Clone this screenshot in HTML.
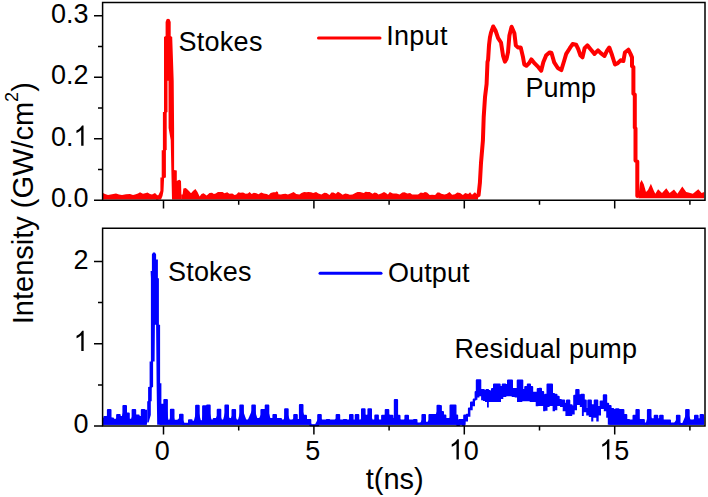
<!DOCTYPE html>
<html><head><meta charset="utf-8"><style>
html,body{margin:0;padding:0;background:#fff;width:708px;height:497px;overflow:hidden}
svg{display:block}
text{font-family:"Liberation Sans",sans-serif}
</style></head><body>
<svg width="708" height="497" viewBox="0 0 708 497">
<path d="M103,193 L105,194 L108,195 L112,194.2 L116,193.5 L119,194.5 L122,195 L126,194.2 L130,194 L133,195 L135,194.5 L138,193.5 L140,192.2 L143,193.8 L146,193 L147.5,192.5 L150,194 L152,194.5 L155,193 L157,195 L158.5,196 L158.5,199.6 L103,199.6 Z" fill="#ff0000"/>
<path d="M156,196.5 L158.5,195 L160.4,191 L160.4,177.5 L161.7,177.5 L161.7,150.3 L162.9,150.3 L162.9,112 L164,112 L164,37 L165.6,36 L165.6,22 L166.6,19.3 L168,18.8 L169.6,19.3 L170.7,22 L170.7,36 L172.2,37 L173.7,81 L174.1,128 L174.1,170 L176.8,170.5 L176.8,181 L178,180.2 L179.5,179.8 L181,181 L181.5,199.4 L172,199.4 L170.7,140 L168.6,128 L168.5,81 L168,80.5 L167.5,81 L167.5,112 L166.7,112.5 L166.7,150 L165.9,150.3 L165.9,177.5 L164.1,178 L163.5,191 L162.5,196 L161,199.4 L156,199.4 Z" fill="#ff0000"/>
<path d="M181.2,194.4 L182.6,194.4 L183.4,188.4 L185.8,188 L187.5,189.5 L189,191 L191,193.3 L193,191 L195.4,189 L197.5,192 L199.6,196.5 L201.5,194 L203.5,193.3 L206.7,195.4 L209.5,193 L212,192.8 L213.9,193.9 L215.7,193.5 L217.9,192 L220.3,191.9 L222.6,192 L224.4,193.2 L227.3,192.2 L229.3,193.8 L232.3,193.6 L234.6,194.9 L236.3,194.5 L238.4,192.3 L240.3,192.8 L243.1,192.4 L245.6,193.8 L247.9,193.6 L249.6,192 L251.6,194 L253.9,192.8 L256.4,193.3 L258.5,194.3 L261.2,192.6 L263.7,193.5 L266.7,194.1 L268.8,194.9 L270.6,193.1 L273.4,192.3 L275.6,192.3 L275.8,191.9 L276.8,191.3 L278,192.3 L278.4,194.2 L280.9,194.6 L283.1,194 L285.6,193.7 L287.9,194.5 L291,193.3 L293.6,192 L296.3,193.9 L299.4,194.4 L301.5,193 L304.1,191.9 L306.5,192.3 L308.3,192 L311.1,192.2 L313.2,193.1 L316.1,192.1 L318.4,193.6 L321.4,194.4 L324.3,192.7 L326.6,192.9 L329.5,194.9 L331.4,192.4 L333.4,192.5 L335.8,193.7 L337.9,191.8 L340.2,193 L342.6,194.8 L345.3,193.4 L347.9,194 L349.7,194.7 L352.5,194.6 L355.3,193.1 L357.5,192.1 L360.1,192 L361.9,192.5 L363.8,192.9 L365.6,191.8 L367.5,192.1 L369.7,191.9 L372.6,193.8 L374.5,192.6 L376.7,193 L378.5,194.5 L381.7,193.3 L384,192.1 L385.9,192.9 L387.9,194.5 L389.8,191.9 L392.9,193.5 L394.8,193.5 L396.5,193.5 L399.6,194.6 L402.3,192.6 L404.5,192.3 L407.3,193.5 L410.1,192.9 L412.1,194.4 L415.2,194.5 L418,194.4 L420.8,192.5 L423.2,192.9 L424.9,191.9 L427,192.6 L429.7,194.9 L432,194.8 L435.1,194.9 L437.3,192.5 L439.3,192.4 L441.3,193.8 L444.3,194.5 L446.6,193.9 L449.5,192.1 L452.1,194.7 L454.9,194.2 L457.3,192.4 L460.1,192.9 L462.9,194.9 L465.2,193.1 L468.2,194.1 L470.1,192.2 L472,194.7 L474.9,192.3 L477.7,194.9 L478,193.4 L478,199.6 L181.2,199.6 Z" fill="#ff0000"/>
<path d="M638.5,196 L640,183 L641.6,180 L643.8,184.3 L646,192 L648,190 L650.9,183.8 L653.7,190.4 L655.3,193.7 L658.1,189.3 L662,193.1 L666.3,188.2 L669.6,193.1 L674,189.6 L677.4,193.7 L682.3,186.5 L686.2,192 L688.4,192.6 L692.8,193.7 L698.3,189.3 L701.6,193.1 L704.2,192 L704.2,198.2 L638.5,198.2 Z" fill="#ff0000"/>
<path d="M476,196.5 L478.6,195 L479.9,182.8 L481,163 L482.9,140.7 L483.7,117.2 L485,97.3 L486.6,84 L487.5,62 L488.1,59.8 L489,45.3 L489.9,37.7 L491,32.6 L493.2,26.5 L495.5,30.5 L498.1,38.2 L501,42.5 L503.1,56 L504.9,61.6 L506.5,59 L508,52.4 L509.4,35.4 L511.6,26.8 L514.4,33.3 L515.8,45.3 L517.9,47.4 L520.7,47.4 L522.9,56.6 L524.3,64.5 L526.4,65.8 L529.2,63 L531.3,59.4 L534.9,63.7 L538.4,67.2 L541.2,70.7 L543.3,62.3 L546.2,55.2 L549.7,52.4 L551.5,53 L554.2,62.4 L557.8,68 L561.3,70.1 L564.1,61 L566.2,53.9 L569.8,48.2 L572.6,44 L576.1,44.7 L578.2,49 L580.4,55.3 L582.5,57.4 L584.6,48.2 L587.4,45.4 L591,49.7 L594.5,53.9 L598,50.4 L600.8,53.2 L604.4,56 L607.2,50.4 L609.3,47.5 L612.1,55.3 L615,64.5 L617.8,63.1 L620.6,60.3 L623.4,61 L624.9,52.5 L628.4,49.7 L630.5,53.9 L632,57.4 L632,66.3 L633.4,67 L633.4,93.8 L634.8,94.5 L634.8,127.6 L635.5,128.5 L635.5,160.6 L637.3,161.5 L637.3,196" fill="none" stroke="#ff0000" stroke-width="4" stroke-linejoin="round" stroke-linecap="round"/>
<path d="M103,419 L104.3,419 L104.3,417 L107.9,417 L107.9,410 L110.5,410 L110.5,418.4 L113,418.4 L113,419.8 L117.1,419.8 L117.1,414.9 L119.7,414.9 L119.7,417 L123.4,417 L123.4,406.1 L126,406.1 L126,413.5 L128.8,413.5 L128.8,419.8 L132.6,419.8 L132.6,410 L135.2,410 L135.2,415.6 L138.7,415.6 L138.7,417 L141.8,417 L141.8,410 L144.4,410 L144.4,410.7 L147,410.7 L147,424.8 L103,424.8 Z" fill="#0000ff"/>
<path d="M103,419 L104.3,419 L104.3,417 L107.9,417 L107.9,410 L110.5,410 L110.5,418.4 L113,418.4 L113,419.8 L117.1,419.8 L117.1,414.9 L119.7,414.9 L119.7,417 L123.4,417 L123.4,406.1 L126,406.1 L126,413.5 L128.8,413.5 L128.8,419.8 L132.6,419.8 L132.6,410 L135.2,410 L135.2,415.6 L138.7,415.6 L138.7,417 L141.8,417 L141.8,410 L144.4,410 L144.4,410.7 L147,410.7" fill="none" stroke="#0000ff" stroke-width="2.0" stroke-linejoin="round"/>
<path d="M102.5,420.2 L105.6,418.2 L109.2,411.2 L112,419.6 L114.1,421 L118.4,416.1 L121.2,418.2 L124.7,407.3 L127.5,414.7 L130.4,421 L133.9,411.2 L137.4,416.8 L140.3,418.2 L143.1,411.2 L145.9,411.9 L145.9,424.8 L102.5,424.8 Z" fill="#0000ff"/>
<path d="M159.5,404.7 L161.8,404.7 L161.8,404.7 L164.3,404.7 L164.3,400.1 L166.9,400.1 L166.9,420.8 L170.9,420.8 L170.9,409.7 L173.5,409.7 L173.5,420.8 L180,420.8 L180,414.7 L182.6,414.7 L182.6,423.8 L189,423.8 L189,420.3 L191.6,420.3 L191.6,421.8 L196.1,421.8 L196.1,405.7 L198.7,405.7 L198.7,421.3 L203.1,421.3 L203.1,406.2 L207.1,406.2 L207.1,405.4 L209.7,405.4 L209.7,420.6 L213.7,420.6 L213.7,419 L217.7,419 L217.7,409.7 L220.3,409.7 L220.3,420.6 L225.4,420.6 L225.4,405.4 L228,405.4 L228,419 L232.5,419 L232.5,410 L235.1,410 L235.1,420.6 L240.3,420.6 L240.3,405.4 L242.9,405.4 L242.9,420.6 L252.3,420.6 L252.3,405.4 L254.9,405.4 L254.9,419 L261.4,419 L261.4,410 L265.7,410 L265.7,405.4 L268.3,405.4 L268.3,419 L273.4,419 L273.4,415 L276,415 L276,419 L281,419 L281,420.6 L285.1,420.6 L285.1,409.3 L287.7,409.3 L287.7,420.6 L294.2,420.6 L294.2,415 L296.8,415 L296.8,420 L299.9,420 L299.9,405.1 L302.5,405.1 L302.5,415.7 L306,415.7 L306,419.9 L310.3,419.9 L310.3,425.3 L318.2,425.3 L318.2,415 L320.8,415 L320.8,420.6 L326.7,420.6 L326.7,419.9 L329.3,419.9 L329.3,420.6 L336.6,420.6 L336.6,415 L339.2,415 L339.2,420.6 L343.7,420.6 L343.7,419.9 L346.3,419.9 L346.3,420.6 L350,420.6 L350,415 L352.6,415 L352.6,420.6 L355.7,420.6 L355.7,415 L358.3,415 L358.3,420.6 L362,420.6 L362,409.3 L364.6,409.3 L364.6,415.7 L368.4,415.7 L368.4,409.3 L371,409.3 L371,420.6 L375.3,420.6 L375.3,415.4 L377.9,415.4 L377.9,420.6 L382.1,420.6 L382.1,415.7 L385.7,415.7 L385.7,410 L388.3,410 L388.3,415.7 L392.4,415.7 L392.4,419 L394.8,419 L394.8,400.1 L397.1,400.1 L397.1,415.7 L399.5,415.7 L399.5,420.6 L405.4,420.6 L405.4,415.7 L408,415.7 L408,420.6 L413.9,420.6 L413.9,419.9 L416.5,419.9 L416.5,423.4 L422.4,423.4 L422.4,415 L425,415 L425,422.7 L429.4,422.7 L429.4,415 L432.9,415 L432.9,415 L437.5,415 L437.5,405.8 L439.4,405.8 L439.4,406 L440.9,406 L440.9,411.9 L443,411.9 L443,415.4 L445.4,415.4 L445.4,418.9 L448.1,418.9 L448.1,418.9 L450.5,418.9 L450.5,405.4 L453.1,405.4 L453.1,405.4 L455.5,405.4 L455.5,415.4 L457.2,415.4 L457.2,425 L459.2,425 L459.2,420 L461.3,420 L461.3,420 L462.8,420 L462.8,425 L464.2,425 L464.2,415.4 L466.7,415.4 L466.7,414.8 L468.9,414.8 L468.9,408.4 L471,408.4 L471,402.5 L473.7,402.5 L473.7,399.6 L475.6,399.6 L475.6,392 L476.8,392 L476.8,380.3 L478.5,380.3 L478.5,380.3 L480.3,380.3 L480.3,390.8 L481.8,390.8 L481.8,390 L483.9,390 L483.9,391 L486.4,391 L486.4,390 L488.1,390 L488.1,390.9 L489.9,390.9 L489.9,392 L492,392 L492,389 L494,389 L494,384.6 L496.6,384.6 L496.6,384.6 L499.7,384.6 L499.7,387 L502.7,387 L502.7,384.6 L505.3,384.6 L505.3,385 L508,385 L508,380.5 L510,380.5 L510,380.5 L512,380.5 L512,389.1 L514.7,389.1 L514.7,389 L517.7,389 L517.7,380.5 L520,380.5 L520,380.5 L522.3,380.5 L522.3,390 L525.2,390 L525.2,387 L527.8,387 L527.8,384.6 L530,384.6 L530,387 L532.2,387 L532.2,392.7 L534.8,392.7 L534.8,392.7 L537.7,392.7 L537.7,389.1 L539.5,389.1 L539.5,388.8 L541,388.8 L541,392 L543.2,392 L543.2,395.2 L545.3,395.2 L545.3,394.7 L547.5,394.7 L547.5,384.5 L549.9,384.5 L549.9,384.5 L552,384.5 L552,394.1 L554.1,394.1 L554.1,394.7 L556.5,394.7 L556.5,396.8 L558.7,396.8 L558.7,400 L561,400 L561,400.5 L564.2,400.5 L564.2,403.7 L567,403.7 L567,400.5 L569.3,400.5 L569.3,405.3 L571.7,405.3 L571.7,406.4 L574.2,406.4 L574.2,395.7 L576.2,395.7 L576.2,389.9 L578.6,389.9 L578.6,395.2 L581.4,395.2 L581.4,394.7 L583.8,394.7 L583.8,400.5 L585.8,400.5 L585.8,409.1 L588.3,409.1 L588.3,400.5 L590.9,400.5 L590.9,405.3 L594.7,405.3 L594.7,400.5 L597.3,400.5 L597.3,406.9 L600.6,406.9 L600.6,401.6 L603.8,401.6 L603.8,395.2 L606.2,395.2 L606.2,403.7 L608.2,403.7 L608.2,405.9 L610.6,405.9 L610.6,409.1 L613.3,409.1 L613.3,410.1 L616,410.1 L616,409.3 L618.5,409.3 L618.5,410 L623.4,410 L623.4,415 L626.3,415 L626.3,419.9 L629.1,419.9 L629.1,420.6 L633.5,420.6 L633.5,415.7 L636.4,415.7 L636.4,410 L638.8,410 L638.8,419.9 L641.2,419.9 L641.2,419.9 L643.9,419.9 L643.9,423.4 L647.9,423.4 L647.9,410 L650.5,410 L650.5,419.2 L654.7,419.2 L654.7,415.7 L657.3,415.7 L657.3,419.2 L660.1,419.2 L660.1,415.7 L662.7,415.7 L662.7,420.6 L666.6,420.6 L666.6,420.6 L670,420.6 L670,423.4 L676.9,423.4 L676.9,415.7 L679.5,415.7 L679.5,424.1 L686.1,424.1 L686.1,410 L688.7,410 L688.7,420.6 L695,420.6 L695,415.7 L697.6,415.7 L697.6,419.2 L700.6,419.2 L700.6,415 L703,415 L703,415.7 L704,415.7 L704,424.8 L608.3,424.8 L608.3,424.8 L607.8,424.8 L607.8,417.7 L606.2,417.7 L606.2,411.3 L603.8,411.3 L603.8,409.1 L601,409.1 L601,415.5 L598.7,415.5 L598.7,421.4 L596.3,421.4 L596.3,417.7 L593.3,417.7 L593.3,421.4 L591.2,421.4 L591.2,417.1 L588.8,417.1 L588.8,415.5 L586.2,415.5 L586.2,412.3 L583.8,412.3 L583.8,416.1 L581.9,416.1 L581.9,407 L579.8,407 L579.8,404.9 L577,404.9 L577,410.2 L574.7,410.2 L574.7,414.5 L572.2,414.5 L572.2,416.1 L569.8,416.1 L569.8,416.1 L567.8,416.1 L567.8,416.1 L565.4,416.1 L565.4,411.3 L562.7,411.3 L562.7,407 L560,407 L560,405.9 L557.3,405.9 L557.3,410.2 L555,410.2 L555,411.3 L552.6,411.3 L552.6,405.9 L549.6,405.9 L549.6,407 L547.5,407 L547.5,410.7 L545.3,410.7 L545.3,411.3 L543.1,411.3 L543.1,405.9 L541,405.9 L541,405.9 L538.3,405.9 L538.3,406.2 L535.7,406.2 L535.7,402.1 L532.5,402.1 L532.5,402.1 L529.7,402.1 L529.7,401.2 L526.5,401.2 L526.5,401.2 L522.3,401.2 L522.3,402.1 L519.5,402.1 L519.5,402.1 L517,402.1 L517,397.5 L514.7,397.5 L514.7,397.1 L511.7,397.1 L511.7,396.2 L506.3,396.2 L506.3,397.1 L503.3,397.1 L503.3,399 L501,399 L501,402.1 L498,402.1 L498,402.1 L493.9,402.1 L493.9,402.1 L490.8,402.1 L490.8,402.1 L488.8,402.1 L488.8,407.4 L487,407.4 L487,402.1 L485,402.1 L485,400.9 L482.9,400.9 L482.9,400.3 L481.1,400.3 L481.1,396.3 L479.4,396.3 L479.4,397.4 L477.4,397.4 L477.4,399.8 L475,399.8 L475,406.2 L472.7,406.2 L472.7,410.3 L470.4,410.3 L470.4,416.7 L468,416.7 L468,421.4 L465.6,421.4 L465.6,424.8 L464,424.8 L464,424.8 L463.5,424.8 L463.5,424.8 L159.5,424.8 Z" fill="#0000ff"/>
<path d="M159.5,404.7 L161.8,404.7 L161.8,404.7 L164.3,404.7 L164.3,400.1 L166.9,400.1 L166.9,420.8 L170.9,420.8 L170.9,409.7 L173.5,409.7 L173.5,420.8 L180,420.8 L180,414.7 L182.6,414.7 L182.6,423.8 L189,423.8 L189,420.3 L191.6,420.3 L191.6,421.8 L196.1,421.8 L196.1,405.7 L198.7,405.7 L198.7,421.3 L203.1,421.3 L203.1,406.2 L207.1,406.2 L207.1,405.4 L209.7,405.4 L209.7,420.6 L213.7,420.6 L213.7,419 L217.7,419 L217.7,409.7 L220.3,409.7 L220.3,420.6 L225.4,420.6 L225.4,405.4 L228,405.4 L228,419 L232.5,419 L232.5,410 L235.1,410 L235.1,420.6 L240.3,420.6 L240.3,405.4 L242.9,405.4 L242.9,420.6 L252.3,420.6 L252.3,405.4 L254.9,405.4 L254.9,419 L261.4,419 L261.4,410 L265.7,410 L265.7,405.4 L268.3,405.4 L268.3,419 L273.4,419 L273.4,415 L276,415 L276,419 L281,419 L281,420.6 L285.1,420.6 L285.1,409.3 L287.7,409.3 L287.7,420.6 L294.2,420.6 L294.2,415 L296.8,415 L296.8,420 L299.9,420 L299.9,405.1 L302.5,405.1 L302.5,415.7 L306,415.7 L306,419.9 L310.3,419.9 L310.3,425.3 L318.2,425.3 L318.2,415 L320.8,415 L320.8,420.6 L326.7,420.6 L326.7,419.9 L329.3,419.9 L329.3,420.6 L336.6,420.6 L336.6,415 L339.2,415 L339.2,420.6 L343.7,420.6 L343.7,419.9 L346.3,419.9 L346.3,420.6 L350,420.6 L350,415 L352.6,415 L352.6,420.6 L355.7,420.6 L355.7,415 L358.3,415 L358.3,420.6 L362,420.6 L362,409.3 L364.6,409.3 L364.6,415.7 L368.4,415.7 L368.4,409.3 L371,409.3 L371,420.6 L375.3,420.6 L375.3,415.4 L377.9,415.4 L377.9,420.6 L382.1,420.6 L382.1,415.7 L385.7,415.7 L385.7,410 L388.3,410 L388.3,415.7 L392.4,415.7 L392.4,419 L394.8,419 L394.8,400.1 L397.1,400.1 L397.1,415.7 L399.5,415.7 L399.5,420.6 L405.4,420.6 L405.4,415.7 L408,415.7 L408,420.6 L413.9,420.6 L413.9,419.9 L416.5,419.9 L416.5,423.4 L422.4,423.4 L422.4,415 L425,415 L425,422.7 L429.4,422.7 L429.4,415 L432.9,415 L432.9,415 L437.5,415 L437.5,405.8 L439.4,405.8 L439.4,406 L440.9,406 L440.9,411.9 L443,411.9 L443,415.4 L445.4,415.4 L445.4,418.9 L448.1,418.9 L448.1,418.9 L450.5,418.9 L450.5,405.4 L453.1,405.4 L453.1,405.4 L455.5,405.4 L455.5,415.4 L457.2,415.4 L457.2,425 L459.2,425 L459.2,420 L461.3,420 L461.3,420 L462.8,420 L462.8,425 L464.2,425 L464.2,415.4 L466.7,415.4 L466.7,414.8 L468.9,414.8 L468.9,408.4 L471,408.4 L471,402.5 L473.7,402.5 L473.7,399.6 L475.6,399.6 L475.6,392 L476.8,392 L476.8,380.3 L478.5,380.3 L478.5,380.3 L480.3,380.3 L480.3,390.8 L481.8,390.8 L481.8,390 L483.9,390 L483.9,391 L486.4,391 L486.4,390 L488.1,390 L488.1,390.9 L489.9,390.9 L489.9,392 L492,392 L492,389 L494,389 L494,384.6 L496.6,384.6 L496.6,384.6 L499.7,384.6 L499.7,387 L502.7,387 L502.7,384.6 L505.3,384.6 L505.3,385 L508,385 L508,380.5 L510,380.5 L510,380.5 L512,380.5 L512,389.1 L514.7,389.1 L514.7,389 L517.7,389 L517.7,380.5 L520,380.5 L520,380.5 L522.3,380.5 L522.3,390 L525.2,390 L525.2,387 L527.8,387 L527.8,384.6 L530,384.6 L530,387 L532.2,387 L532.2,392.7 L534.8,392.7 L534.8,392.7 L537.7,392.7 L537.7,389.1 L539.5,389.1 L539.5,388.8 L541,388.8 L541,392 L543.2,392 L543.2,395.2 L545.3,395.2 L545.3,394.7 L547.5,394.7 L547.5,384.5 L549.9,384.5 L549.9,384.5 L552,384.5 L552,394.1 L554.1,394.1 L554.1,394.7 L556.5,394.7 L556.5,396.8 L558.7,396.8 L558.7,400 L561,400 L561,400.5 L564.2,400.5 L564.2,403.7 L567,403.7 L567,400.5 L569.3,400.5 L569.3,405.3 L571.7,405.3 L571.7,406.4 L574.2,406.4 L574.2,395.7 L576.2,395.7 L576.2,389.9 L578.6,389.9 L578.6,395.2 L581.4,395.2 L581.4,394.7 L583.8,394.7 L583.8,400.5 L585.8,400.5 L585.8,409.1 L588.3,409.1 L588.3,400.5 L590.9,400.5 L590.9,405.3 L594.7,405.3 L594.7,400.5 L597.3,400.5 L597.3,406.9 L600.6,406.9 L600.6,401.6 L603.8,401.6 L603.8,395.2 L606.2,395.2 L606.2,403.7 L608.2,403.7 L608.2,405.9 L610.6,405.9 L610.6,409.1 L613.3,409.1 L613.3,410.1 L616,410.1 L616,409.3 L618.5,409.3 L618.5,410 L623.4,410 L623.4,415 L626.3,415 L626.3,419.9 L629.1,419.9 L629.1,420.6 L633.5,420.6 L633.5,415.7 L636.4,415.7 L636.4,410 L638.8,410 L638.8,419.9 L641.2,419.9 L641.2,419.9 L643.9,419.9 L643.9,423.4 L647.9,423.4 L647.9,410 L650.5,410 L650.5,419.2 L654.7,419.2 L654.7,415.7 L657.3,415.7 L657.3,419.2 L660.1,419.2 L660.1,415.7 L662.7,415.7 L662.7,420.6 L666.6,420.6 L666.6,420.6 L670,420.6 L670,423.4 L676.9,423.4 L676.9,415.7 L679.5,415.7 L679.5,424.1 L686.1,424.1 L686.1,410 L688.7,410 L688.7,420.6 L695,420.6 L695,415.7 L697.6,415.7 L697.6,419.2 L700.6,419.2 L700.6,415 L703,415 L703,415.7 L704,415.7" fill="none" stroke="#0000ff" stroke-width="2.0" stroke-linejoin="round"/>
<path d="M160.5,405.9 L163,405.9 L165.6,401.3 L168.7,422 L172.2,410.9 L175.2,422 L181.3,415.9 L185.3,425 L190.3,421.5 L193.3,423 L197.4,406.9 L201.4,422.5 L204.4,407.4 L208.4,406.6 L212,421.8 L215,420.2 L219,410.9 L222.5,421.8 L226.7,406.6 L230,420.2 L233.8,411.2 L237.5,421.8 L241.6,406.6 L247,421.8 L253.6,406.6 L258,420.2 L262.7,411.2 L267,406.6 L271,420.2 L274.7,416.2 L279.7,420.2 L283,421.8 L286.4,410.5 L290.5,421.8 L295.5,416.2 L298.5,421.2 L301.2,406.3 L304.7,416.9 L309,421.1 L313.9,426.5 L319.5,416.2 L323.5,421.8 L328,421.1 L333,421.8 L337.9,416.2 L341.5,421.8 L345,421.1 L348,421.8 L351.3,416.2 L354,421.8 L357,416.2 L360,421.8 L363.3,410.5 L366.5,416.9 L369.7,410.5 L373.2,421.8 L376.6,416.6 L380.6,421.8 L383.4,416.9 L387,411.2 L391.2,416.9 L393.5,420.2 L396.1,401.3 L398.2,416.9 L402.5,421.8 L406.7,416.9 L411,421.8 L415.2,421.1 L419.4,424.6 L423.7,416.2 L426.5,423.9 L430.7,416.2 L435,416.2 L438.8,407 L440,407.2 L441.8,413.1 L444.1,416.6 L447,420.1 L449.3,420.1 L451.7,406.6 L454.6,406.6 L456.3,416.6 L458.1,426.2 L460.4,421.2 L462.2,421.2 L462.2,424.8 L160.5,424.8 Z" fill="#0000ff"/>
<path d="M609.3,407.1 L612,410.3 L614.7,411.3 L617.2,410.5 L622.1,411.2 L625,416.2 L627.8,421.1 L632,421.8 L634.8,416.9 L637.7,411.2 L639.8,421.1 L642.6,421.1 L645.4,424.6 L649.2,411.2 L652.5,420.4 L656,416.9 L658.8,420.4 L661.4,416.9 L664.5,421.8 L668.7,421.8 L673,424.6 L678.2,416.9 L681.4,425.3 L687.4,411.2 L691.3,421.8 L696.3,416.9 L699.1,420.4 L701.9,416.2 L704.2,416.9 L704.2,424.8 L609.3,424.8 Z" fill="#0000ff"/>
<path d="M147.2,422.5 L147.2,401.3 L148.1,401.3 L148.1,387 L149.6,386.8 L149.6,361.6 L150.9,361.6 L150.9,278 L150.6,271.1 L151.9,271.1 L151.9,254.5 L153,252.5 L155,252.5 L156.1,254.5 L156.1,259.6 L157.9,259.6 L157.9,278.2 L158.9,278.2 L158.9,324.7 L160.1,324.7 L160.1,383.3 L161.4,383.3 L161.4,424.8 L157.2,424.8 L156.6,383.3 L156.1,324.7 L154.9,324.7 L154.6,361.6 L153.1,361.6 L153.1,386.8 L151.8,387.7 L151.7,401.3 L150.8,401.3 L150.8,414.9 L148.6,422.5 Z" fill="#0000ff"/>
<path d="M102.6,200.2 H705.0 V2.5 H102.6 Z M102.6,426.0 H705.0 V228.3 H102.6 Z" fill="none" stroke="#000" stroke-width="1.5"/>
<path d="M163.5,200.2 v8.2 M163.5,426.0 v8.4 M313.9,200.2 v8.2 M313.9,426.0 v8.4 M464.3,200.2 v8.2 M464.3,426.0 v8.4 M614.7,200.2 v8.2 M614.7,426.0 v8.4 M238.7,200.2 v4.6 M238.7,426.0 v4.6 M389.1,200.2 v4.6 M389.1,426.0 v4.6 M539.5,200.2 v4.6 M539.5,426.0 v4.6 M689.9,200.2 v4.6 M689.9,426.0 v4.6 M102.6,200.2 h-8.6 M102.6,138.7 h-8.6 M102.6,77.2 h-8.6 M102.6,15.7 h-8.6 M102.6,169.4 h-4.6 M102.6,107.9 h-4.6 M102.6,46.4 h-4.6 M102.6,426 h-8.6 M102.6,343.7 h-8.6 M102.6,261.4 h-8.6 M102.6,384.9 h-4.6 M102.6,302.6 h-4.6" fill="none" stroke="#000" stroke-width="1.5"/>
<path d="M318.5,38 H380" stroke="#ff0000" stroke-width="3" stroke-linecap="round"/>
<path d="M320,273.3 H381" stroke="#0000ff" stroke-width="3" stroke-linecap="round"/>
<g fill="#000"><path transform="translate(73.5,145.8) scale(0.01318,-0.01384)" d="M763 0H583V1147Q518 1085 412.5 1023Q307 961 223 930V1104Q374 1175 487 1276Q600 1377 647 1472H763Z"/><path transform="translate(73.6,351.1) scale(0.01318,-0.01384)" d="M763 0H583V1147Q518 1085 412.5 1023Q307 961 223 930V1104Q374 1175 487 1276Q600 1377 647 1472H763Z"/><path transform="translate(448.8,459.6) scale(0.01318,-0.01384)" d="M763 0H583V1147Q518 1085 412.5 1023Q307 961 223 930V1104Q374 1175 487 1276Q600 1377 647 1472H763Z"/><path transform="translate(599.3,459.6) scale(0.01318,-0.01384)" d="M763 0H583V1147Q518 1085 412.5 1023Q307 961 223 930V1104Q374 1175 487 1276Q600 1377 647 1472H763Z"/></g>
<g font-family="Liberation Sans, sans-serif" fill="#000"><text transform="translate(51,207.3) scale(1,1.05)" font-size="27">0</text><text transform="translate(66,207.3) scale(1,1.05)" font-size="27">.</text><text transform="translate(73.5,207.3) scale(1,1.05)" font-size="27">0</text><text transform="translate(51,145.8) scale(1,1.05)" font-size="27">0</text><text transform="translate(66,145.8) scale(1,1.05)" font-size="27">.</text><text transform="translate(51,84.3) scale(1,1.05)" font-size="27">0</text><text transform="translate(66,84.3) scale(1,1.05)" font-size="27">.</text><text transform="translate(73.5,84.3) scale(1,1.05)" font-size="27">2</text><text transform="translate(51,22.8) scale(1,1.05)" font-size="27">0</text><text transform="translate(66,22.8) scale(1,1.05)" font-size="27">.</text><text transform="translate(73.5,22.8) scale(1,1.05)" font-size="27">3</text><text transform="translate(73.6,433.4) scale(1,1.05)" font-size="27">0</text><text transform="translate(73.6,268.8) scale(1,1.05)" font-size="27">2</text><text transform="translate(154.7,459.6) scale(1,1.05)" font-size="27">0</text><text transform="translate(305.3,459.6) scale(1,1.05)" font-size="27">5</text><text transform="translate(463.8,459.6) scale(1,1.05)" font-size="27">0</text><text transform="translate(614.3,459.6) scale(1,1.05)" font-size="27">5</text><text transform="translate(178.4,50.6) scale(1,1.05)" text-anchor="start" font-size="27" letter-spacing="0.3">Stokes</text><text transform="translate(386.2,45.3) scale(1,1.05)" text-anchor="start" font-size="27" letter-spacing="0.3">Input</text><text transform="translate(525.4,97.1) scale(1,1.05)" text-anchor="start" font-size="27" >Pump</text><text transform="translate(168.0,280.7) scale(1,1.05)" text-anchor="start" font-size="27" letter-spacing="0.2">Stokes</text><text transform="translate(388.0,281.8) scale(1,1.05)" text-anchor="start" font-size="27" letter-spacing="0.1">Output</text><text transform="translate(454.6,357.6) scale(1,1.05)" text-anchor="start" font-size="27" letter-spacing="0.2">Residual pump</text><text transform="translate(394.7,488.7) scale(1,1.0)" text-anchor="middle" font-size="29" >t(ns)</text><text transform="translate(33.2,203.2) rotate(-90) scale(1,1.04)" text-anchor="middle" font-size="29">Intensity (GW/cm<tspan font-size="18" dy="-14.5">2</tspan><tspan dy="14.5">)</tspan></text></g>
</svg>
</body></html>
